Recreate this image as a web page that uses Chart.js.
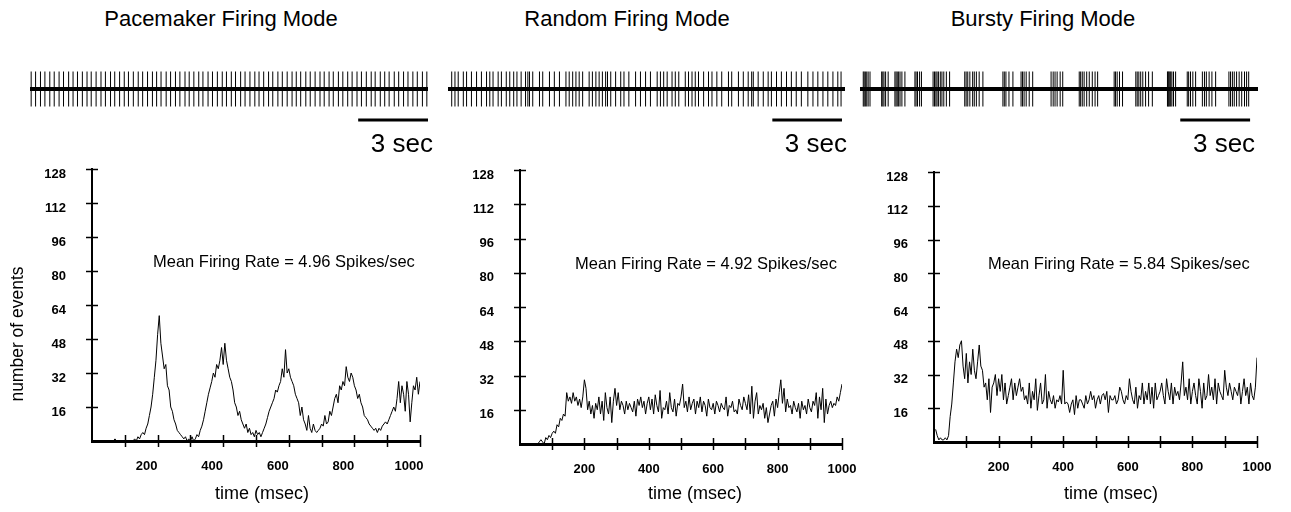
<!DOCTYPE html>
<html><head><meta charset="utf-8">
<script src="https://cdn.jsdelivr.net/npm/chart.js@4/dist/chart.umd.min.js"></script>
<style>
html,body{margin:0;padding:0;background:#fff;width:1291px;height:512px;overflow:hidden;position:relative;}
canvas{position:absolute;}
.title{position:absolute;top:6px;font-family:'Liberation Sans',Arial,sans-serif;font-size:22px;color:#000;transform:translateX(-50%);white-space:nowrap;}
</style></head><body>
<div class="title" style="left:221px">Pacemaker Firing Mode</div>
<div class="title" style="left:627px">Random Firing Mode</div>
<div class="title" style="left:1043px">Bursty Firing Mode</div>
<script>
// ---------------- DATA ----------------
const panelTitles = ['Pacemaker Firing Mode', 'Random Firing Mode', 'Bursty Firing Mode'];
const meanRateLabels = ['Mean Firing Rate = 4.96 Spikes/sec', 'Mean Firing Rate = 4.92 Spikes/sec', 'Mean Firing Rate = 5.84 Spikes/sec'];
const scaleBarLabel = '3 sec';
const scaleBarSeconds = 3;
const yTickValues = [16, 32, 48, 64, 80, 96, 112, 128];
const xTickLabels = [200, 400, 600, 800, 1000];
const yAxisTitle = 'number of events';
const xAxisTitle = 'time (msec)';
const binWidthMs = 5;

// spike times (seconds) of the three example trains
const pacemakerSpikes = [0.05,0.24,0.45,0.64,0.85,1.04,1.25,1.44,1.66,1.85,2.04,2.25,2.45,2.63,2.84,3.05,3.24,3.46,3.64,3.85,4.05,4.23,4.44,4.65,4.84,5.05,5.26,5.44,5.63,5.85,6.04,6.25,6.44,6.66,6.84,7.04,7.25,7.43,7.65,7.84,8.05,8.26,8.44,8.65,8.83,9.05,9.24,9.45,9.66,9.84,10.04,10.25,10.43,10.65,10.84,11.05,11.26,11.44,11.63,11.85,12.04,12.25,12.46,12.64,12.85,13.03,13.25,13.44,13.65,13.84,14.05,14.24,14.45,14.66,14.83,15.05,15.24,15.43,15.65,15.84,16.05,16.24,16.45,16.64,16.86,17.05];
const randomSpikes = [0.16,0.30,0.44,0.66,0.80,1.01,1.23,1.44,1.66,1.80,1.94,2.16,2.30,2.51,2.66,2.83,2.97,3.15,3.34,3.44,3.51,3.65,3.94,4.08,4.37,4.58,4.80,5.08,5.22,5.37,5.51,5.65,5.80,6.08,6.22,6.37,6.51,6.65,6.79,6.87,7.01,7.22,7.44,7.58,7.79,8.08,8.29,8.51,8.72,9.01,9.15,9.29,9.44,9.65,9.79,9.94,10.22,10.36,10.51,10.65,10.79,11.01,11.22,11.37,11.58,11.79,12.08,12.22,12.51,12.72,12.93,13.08,13.15,13.36,13.58,13.79,13.93,14.15,14.36,14.58,14.79,15.00,15.22,15.50,15.72,15.93,16.15,16.36,16.58,16.79,16.93];
const burstySpikes = [0.14,0.18,0.23,0.29,0.35,0.43, 0.93,0.98,1.03,1.10,1.21, 1.50,1.55,1.60,1.66,1.72,1.80,1.93, 2.36,2.41,2.47,2.56,2.64, 3.14,3.20,3.26,3.31,3.37,3.45,3.52,3.60,3.71,3.85, 4.50,4.56,4.63,4.72,4.84,4.91,5.00,5.12,5.28, 6.14,6.20,6.27,6.40,6.57, 6.92,6.98,7.05,7.14,7.27,7.42, 8.21,8.30,8.38,8.47,8.60,8.71, 9.42,9.48,9.55,9.63,9.74,9.85,9.98,10.10,10.21, 10.92,10.98,11.05,11.15,11.28, 11.85,11.91,11.98,12.06,12.15,12.27,12.40,12.56, 13.21,13.24,13.27,13.31,13.35,13.40,13.47,13.56, 14.06,14.12,14.20,14.30,14.42, 14.71,14.80,14.88,15.00,15.12,15.28, 15.85,15.92,16.00,16.08,16.18,16.29,16.40,16.52,16.61,16.70];

// autocorrelation histograms: number of events per 5 ms bin (5 ... 1000 ms)
const pacemakerHist = [
 0,0,0,0,0,0,0,0,0,0,
 0,0,0,1,0,0,0,0,0,0,
 0,0,0,0,0,1,0,2,1,3,
 4,3,6,8,12,16,22,30,38,50,
 59,46,40,34,36,26,24,16,14,10,
 8,5,4,3,2,1,2,0,1,0,
 2,0,1,3,2,5,7,10,14,18,
 22,25,28,32,30,36,34,38,44,36,
 46,38,34,30,28,24,18,16,12,14,
 10,8,6,8,4,6,3,4,2,5,
 3,4,2,4,6,8,11,14,16,18,
 20,24,23,26,28,34,30,43,32,34,
 30,28,26,22,20,18,12,16,10,8,
 5,12,6,4,8,5,4,5,6,8,
 7,12,8,9,14,12,16,20,22,18,
 26,24,28,26,35,30,28,32,30,26,
 24,20,22,18,16,12,11,10,8,7,
 6,5,6,4,6,5,7,8,9,8,
 10,12,14,16,14,20,28,18,26,22,
 14,28,22,9,18,26,24,30,22,28];
const randomHist = [
 0,0,0,0,0,0,0,0,0,0,
 0,1,2,1,0,3,2,4,3,5,
 6,5,9,8,12,11,14,13,24,20,
 22,19,24,20,22,18,21,17,22,30,
 26,16,20,14,18,12,19,16,22,14,
 20,11,24,17,14,22,10,20,26,18,
 24,16,20,18,14,20,16,19,17,15,
 20,13,21,18,22,17,20,14,19,22,
 16,21,14,23,18,15,25,12,17,16,
 20,14,24,17,15,21,13,19,18,22,
 28,17,20,15,22,16,19,21,14,20,
 17,22,15,20,18,13,21,17,16,19,
 14,20,18,15,19,17,16,22,13,18,
 17,20,15,16,14,21,18,16,22,19,
 16,23,14,27,12,20,24,14,18,16,
 19,12,17,10,14,18,20,13,21,17,
 24,30,19,26,15,21,17,18,14,20,
 17,15,19,12,20,16,18,14,21,17,
 15,20,18,24,12,22,16,26,10,21,
 14,18,20,17,19,18,22,20,24,28];
const burstyHist = [
 6,3,1,2,1,1,2,1,3,12,
 18,28,38,44,40,46,48,36,30,42,
 28,38,32,44,34,30,38,46,36,34,
 26,28,20,30,14,26,28,32,22,30,
 24,32,20,28,18,22,26,30,20,28,
 22,26,30,24,26,20,22,18,28,16,
 24,20,30,15,22,28,18,20,32,16,
 24,20,18,22,16,20,19,22,18,34,
 18,19,18,14,18,20,13,22,16,20,
 20,18,16,22,18,20,24,20,22,16,
 20,22,18,22,23,20,24,14,22,20,
 20,22,18,20,26,24,20,18,22,20,
 30,24,20,18,26,16,22,20,28,18,
 24,20,28,18,26,16,28,20,22,24,
 28,22,18,30,24,20,28,18,26,22,
 24,20,28,38,22,26,20,30,18,24,
 28,22,18,30,24,16,28,20,22,32,
 22,26,20,30,18,28,24,22,20,34,
 26,22,28,24,20,26,24,22,28,18,
 24,30,22,26,18,28,22,20,26,40];

// ---------------- LAYOUT (pixels) ----------------
const FONT = "'Liberation Sans', Arial, sans-serif";
const trainLayout = [
  {start: 30,  end: 428, barEnd: 17.1},
  {start: 448, end: 845, barEnd: 16.97},
  {start: 860, end: 1258, barEnd: 16.76}
];
const trainDuration = 17.1;
const histLayout = [
  {left: 0,   width: 440, axisX: 92,  right: 420,  top: 169, bottom: 441, xLabelOffset: -11, xTitleX: 262, rateX: 186, yTitle: true},
  {left: 440, width: 420, axisX: 520, right: 842,  top: 170, bottom: 444, xLabelOffset: 0,   xTitleX: 695, rateX: 171, yTitle: false},
  {left: 860, width: 431, axisX: 934, right: 1257, top: 172, bottom: 442, xLabelOffset: 0,   xTitleX: 1111, rateX: 167, yTitle: false}
];

// ---------------- PLUGINS ----------------
const textPlugin = {
  id: 'texts',
  afterDraw(chart, args, opts) {
    const ctx = chart.ctx;
    (opts.items || []).forEach(it => {
      ctx.save();
      ctx.font = it.font; ctx.fillStyle = '#000';
      ctx.textAlign = it.align || 'left';
      ctx.textBaseline = it.baseline || 'middle';
      const x = it.px !== undefined ? it.px : chart.scales.x.getPixelForValue(it.x);
      const y = it.py !== undefined ? it.py : chart.scales.y.getPixelForValue(it.y);
      ctx.translate(x, y);
      if (it.rot) ctx.rotate(it.rot);
      ctx.fillText(it.text, 0, 0);
      ctx.restore();
    });
  }
};
const crossTicks = {
  id: 'crossTicks',
  afterDraw(chart, args, opts) {
    if (!opts.enabled) return;
    const {ctx, scales: {x, y}} = chart;
    ctx.save(); ctx.strokeStyle = '#000'; ctx.lineWidth = 1.5;
    x.ticks.forEach(t => {
      if (t.value === x.min) return;
      const px = Math.round(x.getPixelForValue(t.value)) + 0.5;
      ctx.beginPath(); ctx.moveTo(px, y.bottom - 6); ctx.lineTo(px, y.bottom + 6); ctx.stroke();
    });
    y.ticks.forEach(t => {
      if (t.value === y.min) return;
      const py = Math.round(y.getPixelForValue(t.value)) + 0.5;
      ctx.beginPath(); ctx.moveTo(x.left - 6, py); ctx.lineTo(x.left + 6, py); ctx.stroke();
    });
    ctx.restore();
  }
};

function makeCanvas(left, top, w, h) {
  const c = document.createElement('canvas');
  c.width = w; c.height = h;
  c.style.left = left + 'px'; c.style.top = top + 'px';
  c.style.width = w + 'px'; c.style.height = h + 'px';
  document.body.appendChild(c);
  return c;
}

// ---------------- SPIKE TRAINS ----------------
const spikeSets = [pacemakerSpikes, randomSpikes, burstySpikes];
spikeSets.forEach((spikes, i) => {
  const L = trainLayout[i];
  const pad = 12;
  const cv = makeCanvas(L.start - pad, 60, (L.end - L.start) + 2 * pad, 100);
  new Chart(cv, {
    type: 'scatter',
    data: {
      datasets: [
        {data: spikes.map(s => ({x: s, y: 0})), pointStyle: 'line', rotation: 90, radius: 17.5,
         pointBorderColor: '#000', pointBorderWidth: 1, borderColor: '#000', showLine: false, clip: false},
        {data: [{x: 0, y: 0}, {x: trainDuration, y: 0}], showLine: true, borderColor: '#000', borderWidth: 4, pointRadius: 0, clip: false},
        {data: [{x: L.barEnd - scaleBarSeconds, y: -31}, {x: L.barEnd, y: -31}], showLine: true, borderColor: '#000', borderWidth: 3, pointRadius: 0, clip: false}
      ]
    },
    options: {
      responsive: false, animation: false, events: [],
      layout: {autoPadding: false, padding: {left: pad, right: pad, top: 0, bottom: 0}},
      scales: {
        x: {type: 'linear', display: false, min: 0, max: trainDuration},
        y: {type: 'linear', display: false, min: -71, max: 29}
      },
      plugins: {
        legend: {display: false}, tooltip: {enabled: false},
        texts: {items: [{text: scaleBarLabel, px: (L.end - L.start) + pad + 5 - (i === 0 ? 0 : (L.end - L.start) * (1 - L.barEnd / trainDuration)), y: -63, align: 'right', baseline: 'alphabetic', font: `26px ${FONT}`}]}
      }
    },
    plugins: [textPlugin]
  });
});

// ---------------- HISTOGRAMS ----------------
const histSets = [pacemakerHist, randomHist, burstyHist];
histSets.forEach((vals, i) => {
  const H = histLayout[i];
  const cv = makeCanvas(H.left, 150, H.width, 362);
  const points = vals.map((v, k) => ({x: (k + 1) * binWidthMs, y: v}));
  const items = [
    {text: meanRateLabels[i], x: H.rateX, y: 84, align: 'left', font: `16.5px ${FONT}`},
    {text: xAxisTitle, px: H.xTitleX - H.left, py: 344, align: 'center', font: `18px ${FONT}`}
  ];
  if (H.yTitle) items.push({text: yAxisTitle, px: 18 - H.left, py: 334 - 150, align: 'center', rot: -Math.PI / 2, font: `17.5px ${FONT}`});
  new Chart(cv, {
    type: 'line',
    data: {datasets: [{data: points, borderColor: '#000', borderWidth: 1, pointRadius: 0, tension: 0, fill: false}]},
    options: {
      responsive: false, animation: false, events: [],
      layout: {autoPadding: false, padding: {left: 0, top: H.top - 150, right: (H.left + H.width) - H.right, bottom: 0}},
      scales: {
        x: {
          type: 'linear', min: 0, max: 1000,
          afterFit: s => { s.height = 512 - H.bottom; s.paddingLeft = 0; s.paddingRight = 0; },
          grid: {display: false, drawTicks: false},
          border: {display: true, color: '#000', width: 3},
          ticks: {stepSize: 100, autoSkip: false, maxRotation: 0, padding: 18, labelOffset: H.xLabelOffset,
                  color: '#000', font: {family: FONT, size: 13, weight: 'bold'},
                  callback: v => xTickLabels.includes(v) ? String(v) : ''}
        },
        y: {
          type: 'linear', min: 0, max: 128,
          afterFit: s => { s.width = H.axisX - H.left; s.paddingTop = 0; s.paddingBottom = 0; },
          grid: {display: false, drawTicks: false},
          border: {display: true, color: '#000', width: 2},
          ticks: {stepSize: 16, autoSkip: false, padding: 26, labelOffset: 5,
                  color: '#000', font: {family: FONT, size: 13, weight: 'bold'},
                  callback: v => yTickValues.includes(v) ? String(v) : ''}
        }
      },
      plugins: {
        legend: {display: false}, tooltip: {enabled: false},
        crossTicks: {enabled: true},
        texts: {items}
      }
    },
    plugins: [textPlugin, crossTicks]
  });
});
</script>
</body></html>
